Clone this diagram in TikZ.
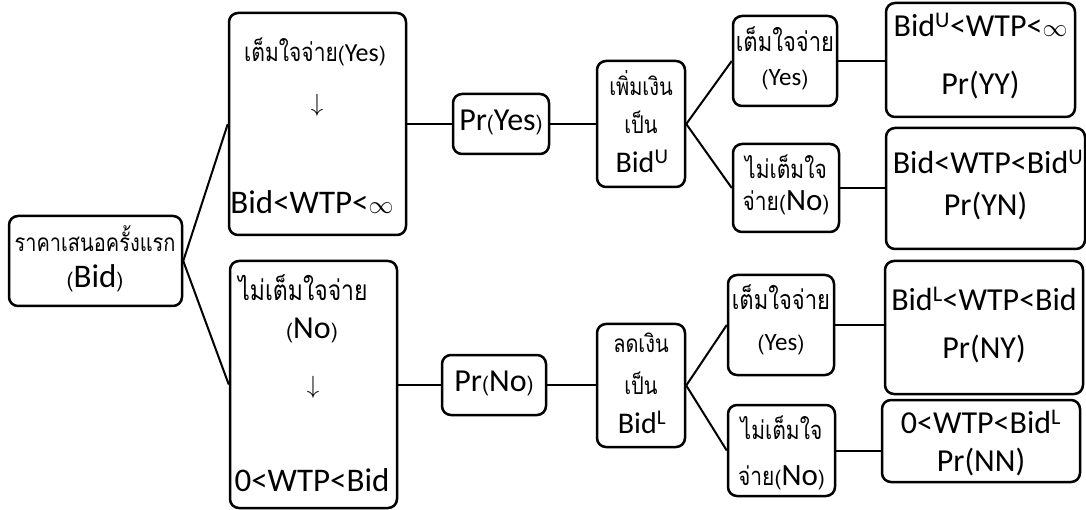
\documentclass[tikz,border=0pt]{standalone}
\usepackage{fontspec}
\usepackage{graphicx}
\setmainfont{Carlito}
\newfontfamily\thai[Script=Thai]{Loma}
\newcommand\ThT[2][21]{\scalebox{1}[1.22]{\thai\fontsize{#1}{#1}\selectfont #2}}
\newcommand\LaT[2]{{\fontsize{#1}{#1}\selectfont #2}}
\newcommand\ThP[1]{{\thai\fontsize{21}{25}\selectfont #1}}
\begin{document}
\begin{tikzpicture}[x=1pt,y=-1pt,
  box/.style={draw, line width=2.5pt, rounded corners=9pt, inner sep=0pt},
  conn/.style={line width=2pt},
  lbl/.style={inner sep=0pt, anchor=center}]
\useasboundingbox (0,0) rectangle (1086,510);
% boxes
\node[box, minimum width=173pt, minimum height=90pt]  (root)  at (95.5,261) {};
\node[box, minimum width=177pt, minimum height=222pt] (yes1)  at (317.5,124) {};
\node[box, minimum width=167pt, minimum height=247pt] (no1)   at (313.5,384.5) {};
\node[box, minimum width=96pt,  minimum height=60pt]  (prY)   at (501,124) {};
\node[box, minimum width=88pt,  minimum height=126pt] (bidU)  at (641,124) {};
\node[box, minimum width=104pt, minimum height=60pt]  (prN)   at (494,385) {};
\node[box, minimum width=88pt,  minimum height=123pt] (bidL)  at (641,385.5) {};
\node[box, minimum width=104pt, minimum height=90pt]  (syes1) at (785,61) {};
\node[box, minimum width=106pt, minimum height=88pt]  (sno1)  at (786,188) {};
\node[box, minimum width=189pt, minimum height=114pt] (ryy)   at (980.5,60) {};
\node[box, minimum width=199pt, minimum height=121pt] (ryn)   at (985.5,188.5) {};
\node[box, minimum width=106pt, minimum height=100pt] (syes2) at (781,325) {};
\node[box, minimum width=107pt, minimum height=91pt]  (sno2)  at (781.5,450.5) {};
\node[box, minimum width=198pt, minimum height=133pt] (rny)   at (984,327.5) {};
\node[box, minimum width=198pt, minimum height=82pt]  (rnn)   at (981,441) {};
% connectors
\draw[conn] (root.east) -- (yes1.west);
\draw[conn] (root.east) -- (no1.west);
\draw[conn] (yes1.east) -- (prY.west);
\draw[conn] (prY.east) -- (bidU.west);
\draw[conn] (bidU.east) -- (syes1.west);
\draw[conn] (bidU.east) -- (sno1.west);
\draw[conn] (syes1.east) -- (syes1.east -| ryy.west);
\draw[conn] (sno1.east) -- (sno1.east -| ryn.west);
\draw[conn] (no1.east) -- (no1.east -| prN.west);
\draw[conn] (prN.east) -- (prN.east -| bidL.west);
\draw[conn] (bidL.east) -- (syes2.west);
\draw[conn] (bidL.east) -- (sno2.west);
\draw[conn] (syes2.east) -- (syes2.east -| rny.west);
\draw[conn] (sno2.east) -- (sno2.east -| rnn.west);
% labels
\node[lbl] (rootA) at (95,239) {\ThT[20]{ราคาเสนอครั้งแรก}};
\node[lbl] (rootB) at (95,278) {\ThP{(}\LaT{33}{Bid}\ThP{)}};
\node[lbl] (yes1A) at (315,52) {\ThT{เต็มใจจ่าย}\ThP{(}\LaT{26}{Yes}\ThP{)}};
\node[lbl] (yes1B) at (317,105) {\LaT{26}{$\downarrow$}};
\node[lbl] (yes1C) at (312,202) {\LaT{33}{Bid<WTP<$\infty$}};
\node[lbl] (no1A) at (303,288) {\ThT[23]{ไม่เต็มใจจ่าย}};
\node[lbl] (no1B) at (312,330) {\ThP{(}\LaT{32}{No}\ThP{)}};
\node[lbl] (no1C) at (313,387) {\LaT{26}{$\downarrow$}};
\node[lbl] (no1D) at (312,480) {\LaT{33}{0<WTP<Bid}};
\node[lbl] (prYA) at (501,122) {\LaT{32}{Pr}\ThP{(}\LaT{32}{Yes}\ThP{)}};
\node[lbl] (bidUA) at (641,83) {\ThT[20]{เพิ่มเงิน}};
\node[lbl] (bidUB) at (641,122) {\ThT[20]{เป็น}};
\node[lbl] (bidUC) at (642,161) {\LaT{30}{Bid\textsuperscript{U}}};
\node[lbl] (prNA) at (494,383) {\LaT{32}{Pr}\ThP{(}\LaT{32}{No}\ThP{)}};
\node[lbl] (bidLA) at (641,343) {\ThT[20]{ลดเงิน}};
\node[lbl] (bidLB) at (641,383) {\ThT[20]{เป็น}};
\node[lbl] (bidLC) at (642,422) {\LaT{30}{Bid\textsuperscript{L}}};
\node[lbl] (syes1A) at (785,39) {\ThT[22]{เต็มใจจ่าย}};
\node[lbl] (syes1B) at (785,80) {\ThP{(}\LaT{25}{Yes}\ThP{)}};
\node[lbl] (sno1A) at (786,167) {\ThT{ไม่เต็มใจ}};
\node[lbl] (sno1B) at (786,203) {\ThT{จ่าย}\ThP{(}\LaT{31}{No}\ThP{)}};
\node[lbl] (ryyA) at (980.5,25) {\LaT{32}{Bid\textsuperscript{U}<WTP<$\infty$}};
\node[lbl] (ryyB) at (980.5,85) {\LaT{32}{Pr(YY)}};
\node[lbl] (rynA) at (988,162) {\LaT{32}{Bid<WTP<Bid\textsuperscript{U}}};
\node[lbl] (rynB) at (985.5,206) {\LaT{32}{Pr(YN)}};
\node[lbl] (syes2A) at (781,297) {\ThT[22]{เต็มใจจ่าย}};
\node[lbl] (syes2B) at (781,345) {\ThP{(}\LaT{25}{Yes}\ThP{)}};
\node[lbl] (sno2A) at (781.5,428) {\ThT{ไม่เต็มใจ}};
\node[lbl] (sno2B) at (781.5,478) {\ThT{จ่าย}\ThP{(}\LaT{31}{No}\ThP{)}};
\node[lbl] (rnyA) at (984,299) {\LaT{32}{Bid\textsuperscript{L}<WTP<Bid}};
\node[lbl] (rnyB) at (984,349) {\LaT{32}{Pr(NY)}};
\node[lbl] (rnnA) at (981,422) {\LaT{32}{0<WTP<Bid\textsuperscript{L}}};
\node[lbl] (rnnB) at (981,462) {\LaT{32}{Pr(NN)}};
\end{tikzpicture}
\end{document}
